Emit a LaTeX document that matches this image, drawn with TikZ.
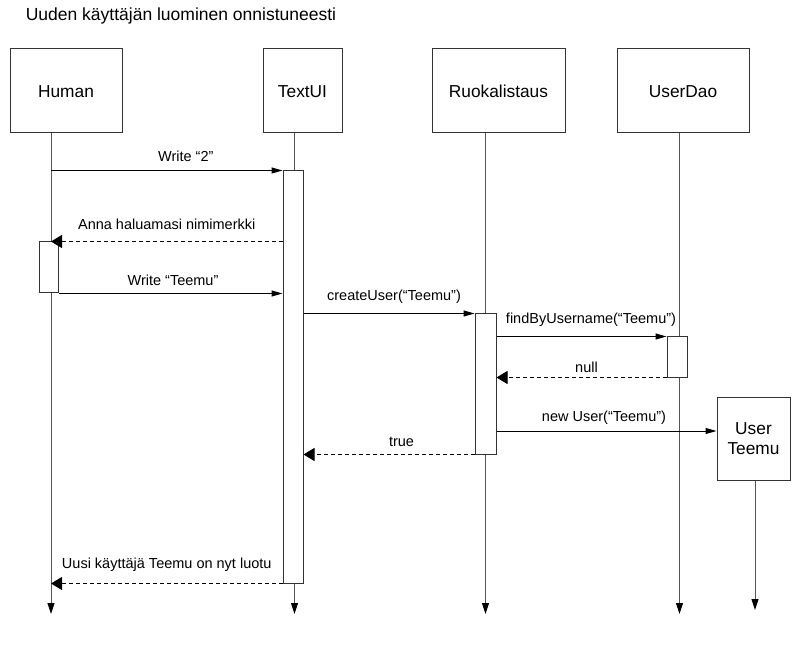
\documentclass[tikz,border=0pt]{standalone}
\usepackage{fontspec}
\setmainfont{Liberation Sans}
\usetikzlibrary{arrows.meta}
\definecolor{boxgray}{HTML}{333333}
\definecolor{linegray}{HTML}{555555}
\newcommand{\labfont}{\fontsize{14.5}{17}\selectfont}
\newcommand{\boxfont}{\fontsize{17.3}{19.5}\selectfont}
\tikzset{
  actor/.style={draw=boxgray, line width=1pt, fill=white, minimum height=84pt, inner sep=0pt, font=\boxfont},
  bar/.style={draw=boxgray, line width=1pt, fill=white, minimum width=20pt, inner sep=0pt},
  life/.style={draw=linegray, line width=1pt, -{Triangle[length=11pt,width=7pt,color=black]}},
  msg/.style={line width=1pt, -{Triangle[length=11pt,width=6pt]}},
  ret/.style={line width=1pt, dash pattern=on 4pt off 3pt, -{Triangle[length=11pt,width=13pt]}},
  lab/.style={midway, anchor=base, font=\labfont, inner sep=0pt},
}

\begin{document}
\begin{tikzpicture}[x=1pt,y=-1pt]
  \useasboundingbox (0,0) rectangle (812,647);

  \node[anchor=base west, inner sep=0pt, font=\fontsize{17.5}{20}\selectfont] (title) at (25.6,20.7) {Uuden käyttäjän luominen onnistuneesti};

  % objects
  \node[actor, text height=12.4pt, text depth=0pt, minimum width=112pt] (hum) at (66,91) {Human};
  \node[actor, text height=12.4pt, text depth=0pt, minimum width=79pt] (txt) at (302.5,91) {TextUI};
  \node[actor, text height=12.4pt, text depth=0pt, minimum width=133pt] (ruo) at (498.5,91) {Ruokalistaus};
  \node[actor, text height=12.4pt, text depth=0pt, minimum width=132pt] (dao) at (683,91) {UserDao};
  \node[actor, minimum width=73pt, minimum height=83pt, align=center] (usr) at (753.5,438.5) {User\\Teemu};

  % lifelines
  \coordinate (hum-end) at (51,614);
  \coordinate (txt-end) at (294.5,614);
  \coordinate (ruo-end) at (485.5,614);
  \coordinate (dao-end) at (679.5,614);
  \coordinate (usr-end) at (755,610);
  \foreach \o in {hum,txt,ruo,dao,usr}
    \draw[life] (\o.south -| \o-end) -- (\o-end);

  % activations
  \node[bar, minimum width=19pt, minimum height=51pt] (barH) at (48.5,267.5) {};
  \node[bar, minimum height=412pt] (barT) at (293,377) {};
  \node[bar, minimum width=21pt, minimum height=140pt] (barR) at (485.5,384) {};
  \node[bar, minimum height=40pt] (barD) at (677,357) {};

  % messages
  \draw[msg] (hum-end |- barT.north) -- (barT.north west) node[lab, xshift=19pt, yshift=9pt] {Write “2”};
  \draw[ret] (barT.west |- barH.north) -- (hum-end |- barH.north) node[lab, yshift=11.5pt] {Anna haluamasi nimimerkki};
  \draw[msg] (barH.south east) -- (barT.west |- barH.south) node[lab, xshift=2.5pt, yshift=8pt] {Write “Teemu”};
  \draw[msg] (barT.east |- barR.north) -- (barR.north west) node[lab, xshift=5pt, yshift=13pt] {createUser(“Teemu”)};
  \draw[msg] (barR.east |- barD.north) -- (barD.north west) node[lab, xshift=9.5pt, yshift=13pt] {findByUsername(“Teemu”)};
  \draw[ret] (barD.south west) -- (barR.east |- barD.south) node[lab, xshift=5pt, yshift=5pt] {null};
  \draw[msg] (barR.east |- 0,431) -- (usr.west |- 0,431) node[lab, xshift=-2.5pt, yshift=10pt] {new User(“Teemu”)};
  \draw[ret] (barR.south west) -- (barT.east |- barR.south) node[lab, xshift=12.5pt, yshift=8pt] {true};
  \draw[ret] (barT.south west) -- (hum-end |- barT.south) node[lab, yshift=15pt] {Uusi käyttäjä Teemu on nyt luotu};
\end{tikzpicture}
\end{document}
